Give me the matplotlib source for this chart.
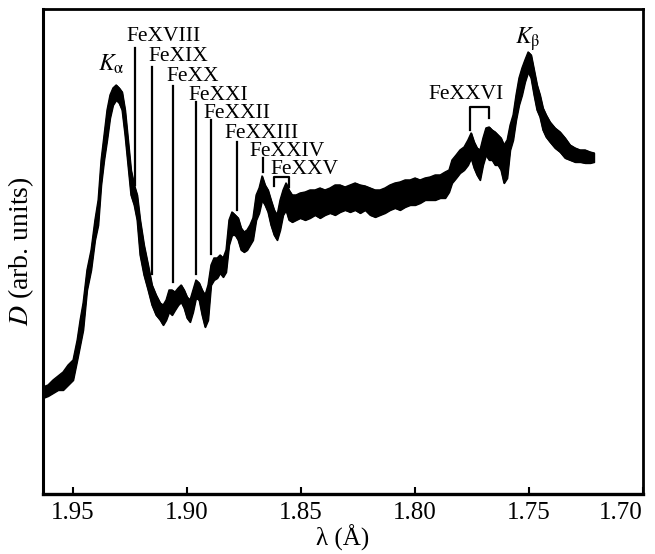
import matplotlib.pyplot as plt

plt.rcParams["font.family"] = ["Liberation Serif", "DejaVu Serif"]
plt.rcParams["mathtext.fontset"] = "stix"

# wavelength (Angstrom) and upper / lower edge of the noisy trace (arb. units)
wavelength = [
    1.9632, 1.9610, 1.9588, 1.9566, 1.9544, 1.9522, 1.9500, 1.9482, 1.9469, 1.9456,
    1.9439, 1.9421, 1.9404, 1.9390, 1.9377, 1.9364, 1.9351, 1.9338, 1.9325, 1.9311,
    1.9298, 1.9285, 1.9272, 1.9259, 1.9246, 1.9232, 1.9219, 1.9206, 1.9189, 1.9171,
    1.9154, 1.9136, 1.9118, 1.9105, 1.9092, 1.9079, 1.9066, 1.9053, 1.9039, 1.9026,
    1.9013, 1.9000, 1.8987, 1.8974, 1.8961, 1.8947, 1.8934, 1.8921, 1.8908, 1.8895,
    1.8882, 1.8868, 1.8855, 1.8842, 1.8829, 1.8816, 1.8803, 1.8789, 1.8776, 1.8763,
    1.8750, 1.8737, 1.8724, 1.8711, 1.8697, 1.8684, 1.8671, 1.8658, 1.8645, 1.8632,
    1.8618, 1.8605, 1.8592, 1.8579, 1.8566, 1.8553, 1.8539, 1.8522, 1.8504, 1.8482,
    1.8461, 1.8439, 1.8417, 1.8395, 1.8373, 1.8351, 1.8329, 1.8307, 1.8285, 1.8263,
    1.8241, 1.8219, 1.8197, 1.8175, 1.8154, 1.8132, 1.8110, 1.8088, 1.8066, 1.8044,
    1.8022, 1.8000, 1.7978, 1.7956, 1.7934, 1.7912, 1.7890, 1.7868, 1.7851, 1.7838,
    1.7820, 1.7803, 1.7785, 1.7768, 1.7754, 1.7741, 1.7728, 1.7715, 1.7702, 1.7689,
    1.7675, 1.7662, 1.7649, 1.7636, 1.7623, 1.7610, 1.7596, 1.7583, 1.7570, 1.7557,
    1.7544, 1.7531, 1.7518, 1.7504, 1.7491, 1.7478, 1.7465, 1.7452, 1.7439, 1.7425,
    1.7408, 1.7386, 1.7364, 1.7342, 1.7320, 1.7298, 1.7276, 1.7254, 1.7232, 1.7215,
]
d_upper = [
    10.7, 10.9, 11.4, 11.8, 12.2, 12.9, 13.4, 15.4, 17.4, 19.1,
    22.4, 24.4, 27.4, 29.4, 33.4, 35.9, 38.4, 39.9, 40.6, 40.9,
    40.6, 40.2, 38.4, 35.4, 32.4, 30.9, 29.9, 27.4, 24.9, 22.9,
    20.9, 19.9, 19.1, 18.9, 19.4, 20.4, 20.4, 20.2, 20.6, 20.9,
    20.4, 19.7, 19.4, 20.4, 21.4, 21.1, 20.4, 19.9, 20.9, 22.9,
    23.6, 23.6, 23.9, 23.6, 24.4, 27.4, 28.2, 27.9, 27.6, 26.6,
    26.2, 26.4, 26.9, 27.6, 29.9, 30.6, 31.8, 30.9, 30.4, 29.4,
    28.4, 27.9, 29.4, 30.4, 31.1, 30.4, 29.9, 29.9, 30.1, 30.2,
    30.4, 30.4, 30.6, 30.4, 30.6, 30.9, 30.9, 30.7, 30.9, 31.1,
    30.9, 30.8, 30.6, 30.4, 30.4, 30.6, 30.9, 31.1, 31.2, 31.4,
    31.4, 31.6, 31.4, 31.6, 31.7, 31.9, 31.9, 32.2, 32.4, 33.4,
    33.9, 34.4, 34.7, 35.4, 36.1, 35.2, 34.6, 34.4, 35.6, 36.6,
    36.7, 36.4, 36.2, 35.9, 35.6, 34.9, 35.4, 36.9, 37.9, 39.9,
    41.6, 42.6, 43.4, 44.2, 43.9, 42.4, 40.9, 39.9, 38.6, 37.9,
    37.2, 36.6, 36.2, 35.6, 34.9, 34.6, 34.4, 34.4, 34.2, 34.1,
]
d_lower = [
    9.6, 9.8, 10.1, 10.4, 10.4, 10.9, 11.4, 13.4, 14.9, 16.4,
    20.4, 22.4, 25.4, 26.9, 30.9, 33.4, 35.4, 37.6, 38.9, 39.4,
    39.1, 38.4, 35.9, 32.9, 29.9, 28.9, 27.4, 23.9, 21.9, 20.4,
    18.9, 17.9, 17.4, 16.9, 17.4, 18.2, 17.9, 18.4, 18.9, 19.2,
    18.6, 17.6, 17.2, 18.2, 19.6, 19.4, 17.9, 16.7, 17.4, 20.9,
    21.4, 21.6, 22.1, 21.7, 22.2, 24.9, 25.9, 25.9, 25.4, 24.4,
    24.2, 24.4, 24.9, 25.4, 27.4, 28.1, 29.4, 28.9, 28.2, 26.9,
    25.9, 25.4, 26.4, 27.9, 28.4, 27.4, 27.2, 27.4, 27.6, 27.4,
    27.6, 27.9, 27.6, 27.9, 28.1, 27.9, 28.2, 28.4, 28.2, 28.4,
    28.1, 28.4, 27.9, 27.7, 27.9, 28.1, 28.4, 28.6, 28.4, 28.7,
    28.9, 28.9, 29.1, 29.4, 29.4, 29.4, 29.6, 29.6, 30.2, 31.1,
    31.6, 32.1, 32.4, 32.9, 33.6, 32.6, 31.9, 31.4, 32.9, 33.9,
    33.4, 33.4, 32.9, 32.9, 32.4, 31.1, 31.6, 34.4, 35.4, 37.4,
    38.9, 39.9, 41.2, 42.2, 41.6, 39.9, 38.4, 37.7, 36.4, 35.7,
    35.2, 34.6, 34.2, 33.6, 33.4, 33.2, 33.2, 33.1, 33.1, 33.2,
]

# single ion lines: label, text position, marker line position and extent
ion_labels = ["FeXVIII", "FeXIX", "FeXX", "FeXXI", "FeXXII", "FeXXIII", "FeXXIV"]
ion_text_x = [1.9101, 1.9039, 1.8976, 1.8864, 1.8781, 1.8675, 1.8561]
ion_text_y = [45.3, 43.3, 41.3, 39.4, 37.6, 35.6, 33.8]
ion_line_x = [1.9228, 1.9154, 1.9061, 1.8961, 1.8895, 1.8781, 1.8667]
ion_line_top = [44.6, 42.7, 40.8, 39.2, 37.4, 35.2, 33.6]
ion_line_bottom = [30.9, 22.0, 21.2, 22.0, 24.0, 28.4, 32.2]

# bracketed doublets: label, text position, bracket ends and leg bottoms
pair_labels = ["FeXXV", "FeXXVI"]
pair_text_x = [1.8487, 1.7776]
pair_text_y = [32.0, 39.5]
pair_left = [1.8618, 1.7759]
pair_right = [1.8553, 1.7675]
pair_top = [31.7, 38.7]
pair_left_bottom = [30.8, 36.4]
pair_right_bottom = [30.7, 37.6]

fig = plt.figure(figsize=(6.55, 5.54), dpi=100)
ax = fig.add_axes([0.0656, 0.1083, 0.9161, 0.8755])

ax.fill_between(wavelength, d_lower, d_upper, color="black", lw=1.0)
ax.plot(wavelength, d_upper, color="black", lw=1.0)
ax.plot(wavelength, d_lower, color="black", lw=1.0)

for lab, tx, ty, lx, top, bot in zip(ion_labels, ion_text_x, ion_text_y,
                                      ion_line_x, ion_line_top, ion_line_bottom):
    ax.text(tx, ty, lab, ha="center", va="baseline", fontsize=15.5)
    ax.plot([lx, lx], [bot, top], color="black", lw=1.6)

for lab, tx, ty, xl, xr, top, bl, br in zip(pair_labels, pair_text_x, pair_text_y,
                                             pair_left, pair_right, pair_top,
                                             pair_left_bottom, pair_right_bottom):
    ax.text(tx, ty, lab, ha="center", va="baseline", fontsize=15.5)
    ax.plot([xl, xl, xr, xr], [bl, top, top, br], color="black", lw=1.6)

ax.text(1.9333, 42.3, r"$K_{\mathrm{\alpha}}$", ha="center", va="baseline", fontsize=17)
ax.text(1.7504, 45.0, r"$K_{\mathrm{\beta}}$", ha="center", va="baseline", fontsize=17)

ax.set_xlim(1.9632, 1.70)
ax.set_ylim(0, 48.5)
ax.set_xticks([1.95, 1.90, 1.85, 1.80, 1.75, 1.70])
ax.set_xticklabels(["1.95", "1.90", "1.85", "1.80", "1.75", "1.70"])
ax.get_xticklabels()[-1].set_horizontalalignment("right")
ax.set_yticks([])
ax.tick_params(axis="x", direction="in", length=5, width=1.5, labelsize=18, pad=6)
for side, lw in [("bottom", 2.4), ("left", 2.2), ("top", 2.0), ("right", 2.0)]:
    ax.spines[side].set_linewidth(lw)

ax.set_xlabel("λ (Å)", fontsize=18, labelpad=0)
ax.set_ylabel(r"$D$ (arb. units)", fontsize=20, labelpad=5)

fig.savefig("out.png", dpi=100)
